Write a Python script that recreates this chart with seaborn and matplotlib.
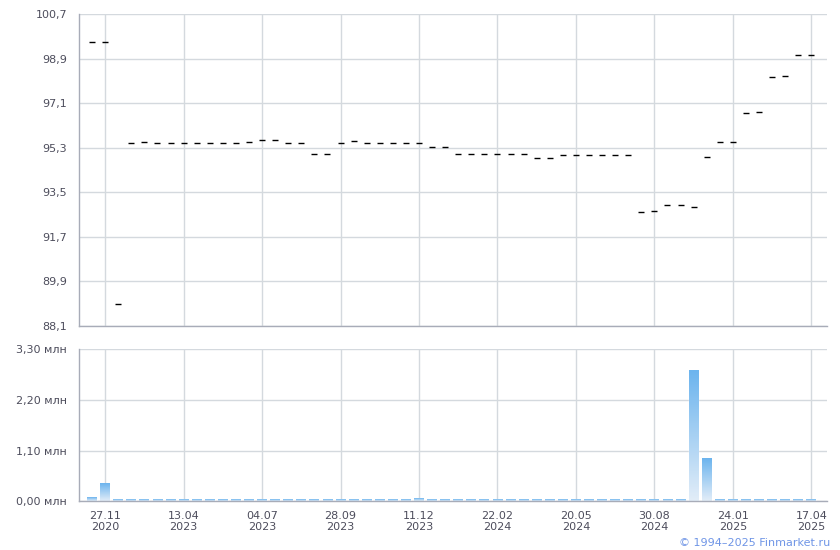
import numpy as np
import pandas as pd
import matplotlib
matplotlib.use("Agg")
import matplotlib.pyplot as plt
import seaborn as sns
from matplotlib.colors import LinearSegmentedColormap

# price per trading point (categorical x, evenly spaced)
price = [99.56, 99.56, 89.0, 95.49, 95.54, 95.49, 95.49, 95.49, 95.49, 95.49,
         95.49, 95.49, 95.54, 95.62, 95.62, 95.49, 95.49, 95.03, 95.03, 95.49,
         95.55, 95.49, 95.49, 95.49, 95.49, 95.49, 95.34, 95.34, 95.03, 95.03,
         95.03, 95.03, 95.03, 95.03, 94.9, 94.9, 95.02, 95.02, 95.02, 95.02,
         95.02, 95.02, 92.71, 92.75, 92.99, 92.99, 92.91, 94.94, 95.54, 95.54,
         96.70, 96.74, 98.17, 98.21, 99.03, 99.03]

# volume, mln
volume = [0.08, 0.38] + [0.03] * 23 + [0.05] + [0.03] * 20 + [2.83, 0.92] + [0.03] * 8

tick_pos = [1, 7, 13, 19, 25, 31, 37, 43, 49, 55]
tick_labels = ["27.11\n2020", "13.04\n2023", "04.07\n2023", "28.09\n2023", "11.12\n2023",
               "22.02\n2024", "20.05\n2024", "30.08\n2024", "24.01\n2025", "17.04\n2025"]

price_ticks = [88.1, 89.9, 91.7, 93.5, 95.3, 97.1, 98.9, 100.7]
vol_ticks = [0.0, 1.1, 2.2, 3.3]

df = pd.DataFrame({"idx": range(len(price)), "price": price, "volume": volume})

sns.set_style("white")
plt.rcParams['font.family'] = ['DejaVu Sans']

grid_c = "#d4d9de"
spine_c = "#a8acb8"
text_c = "#4d4d5c"

fig = plt.figure(figsize=(8.4, 5.5), dpi=100)
ax1 = fig.add_axes([0.094, 0.4073, 0.8905, 0.5673])
ax2 = fig.add_axes([0.094, 0.0882, 0.8905, 0.2764])

# top: price dashes
sns.scatterplot(data=df, x="idx", y="price", marker="_", color="black",
                s=14, linewidth=1.0, ax=ax1, zorder=3)

# bottom: volume bars with vertical gradient
sns.barplot(data=df, x="idx", y="volume", color="#8cc2ee", width=0.75,
            ax=ax2, zorder=2)
cmap = LinearSegmentedColormap.from_list("vol", ["#e2edf8", "#6cb4ee"])
grad = np.linspace(0, 1, 100).reshape(-1, 1)
for p in list(ax2.patches):
    x0, w, h = p.get_x(), p.get_width(), p.get_height()
    ax2.imshow(grad, extent=[x0, x0 + w, 0, h], origin="lower", aspect="auto",
               cmap=cmap, zorder=2.5)

for ax in (ax1, ax2):
    ax.set_xlim(-1, 56.2)
    ax.set_xticks(tick_pos)
    ax.grid(True, color=grid_c, linewidth=1)
    ax.set_axisbelow(True)
    for s in ("top", "right"):
        ax.spines[s].set_visible(False)
    for s in ("left", "bottom"):
        ax.spines[s].set_color(spine_c)
        ax.spines[s].set_linewidth(1)
    ax.tick_params(axis="both", colors=spine_c, labelcolor=text_c,
                   labelsize=8, length=5, width=1)
    ax.set_xlabel("")
    ax.set_ylabel("")

ax1.set_ylim(88.1, 100.7)
ax1.set_yticks(price_ticks)
ax1.set_yticklabels([f"{v:.1f}".replace(".", ",") for v in price_ticks])
ax1.set_xticklabels([])

ax2.set_ylim(0, 3.3)
ax2.set_yticks(vol_ticks)
ax2.set_yticklabels([f"{v:.2f} млн".replace(".", ",") for v in vol_ticks])
ax2.set_xticklabels(tick_labels, linespacing=1.1)
ax2.tick_params(axis="x", pad=2)

fig.text(0.988, 0.004, "© 1994–2025 Finmarket.ru", ha="right", va="bottom",
         fontsize=8, color="#6f95e6")

fig.savefig("out.png", dpi=100)
